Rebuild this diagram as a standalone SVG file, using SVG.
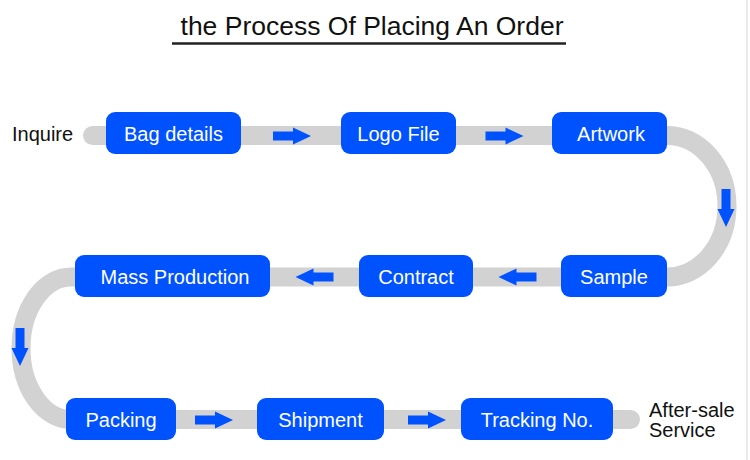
<svg xmlns="http://www.w3.org/2000/svg" xmlns:xlink="http://www.w3.org/1999/xlink" width="750" height="460" viewBox="0 0 750 460">
<style>
text{font-family:"Liberation Sans",Arial,sans-serif}
.box{fill:#0052ff}
.lbl{fill:#ffffff;font-size:20px;text-anchor:middle}
.side{fill:#111111;font-size:20px}
.arr{fill:#0052ff}
</style>
<defs>
<path id="arr" d="M -19,-4.5 H 1 V -8.5 L 19,0 L 1,8.5 V 4.5 H -19 Z"/>
</defs>
<rect x="0" y="0" width="750" height="460" fill="#ffffff"/>
<line x1="747" y1="0" x2="747" y2="460" stroke="#e4e4e4" stroke-width="1.5"/>
<g id="title">
<text x="372" y="35" font-size="26.5" fill="#111111" text-anchor="middle">the Process Of Placing An Order</text>
<line x1="172" y1="43.5" x2="566" y2="43.5" stroke="#222222" stroke-width="2.5"/>
</g>
<g id="connectors">
<path d="M 92.5,135.5 H 667 A 60 70.75 0 0 1 667 277 H 71 A 50 71.25 0 0 0 71 419.5 H 630.5" fill="none" stroke="#d2d2d2" stroke-width="19" stroke-linecap="round"/>
<use xlink:href="#arr" class="arr" transform="translate(292,136)"/>
<use xlink:href="#arr" class="arr" transform="translate(504.5,136)"/>
<use xlink:href="#arr" class="arr" transform="translate(726,208) rotate(90)"/>
<use xlink:href="#arr" class="arr" transform="translate(517.5,277) rotate(180)"/>
<use xlink:href="#arr" class="arr" transform="translate(314.5,277) rotate(180)"/>
<use xlink:href="#arr" class="arr" transform="translate(20,347) rotate(90)"/>
<use xlink:href="#arr" class="arr" transform="translate(214,420)"/>
<use xlink:href="#arr" class="arr" transform="translate(427,420)"/>
</g>
<g id="inquire"><text class="side" x="12" y="141">Inquire</text></g>
<g id="bag-details"><rect class="box" x="106" y="112" width="135" height="42" rx="9"/><text class="lbl" x="173.5" y="141">Bag details</text></g>
<g id="logo-file"><rect class="box" x="341" y="112" width="115" height="42" rx="9"/><text class="lbl" x="398.5" y="141">Logo File</text></g>
<g id="artwork"><rect class="box" x="552" y="112" width="115" height="42" rx="9"/><text class="lbl" x="611" y="141">Artwork</text></g>
<g id="sample"><rect class="box" x="561" y="255" width="106" height="42" rx="9"/><text class="lbl" x="614" y="284">Sample</text></g>
<g id="contract"><rect class="box" x="359" y="255" width="114" height="42" rx="9"/><text class="lbl" x="416" y="284">Contract</text></g>
<g id="mass-production"><rect class="box" x="75" y="255" width="195" height="42" rx="9"/><text class="lbl" x="175" y="284">Mass Production</text></g>
<g id="packing"><rect class="box" x="66" y="398" width="110" height="42" rx="9"/><text class="lbl" x="121" y="427">Packing</text></g>
<g id="shipment"><rect class="box" x="257" y="398" width="127" height="42" rx="9"/><text class="lbl" x="320.5" y="427">Shipment</text></g>
<g id="tracking-no"><rect class="box" x="461" y="398" width="152" height="42" rx="9"/><text class="lbl" x="537" y="427">Tracking No.</text></g>
<g id="after-sale"><text class="side" x="649" y="416.5" font-size="19">After-sale</text><text class="side" x="649" y="436.5" font-size="19">Service</text></g>
</svg>
